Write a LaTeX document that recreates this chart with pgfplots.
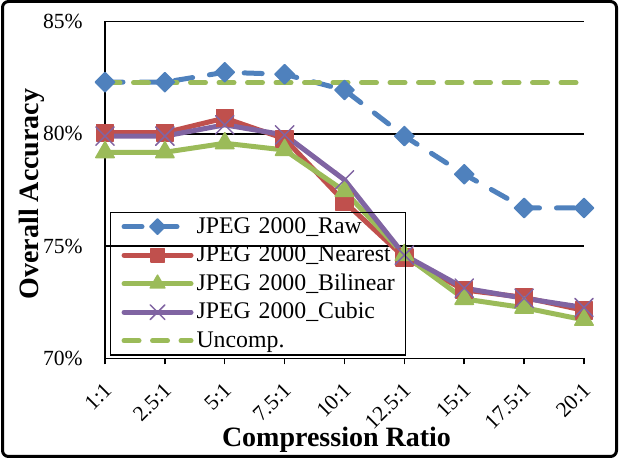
\documentclass[border=0pt]{standalone}
\usepackage{pgfplots}
\pgfplotsset{compat=1.18}
\usepackage{fontspec}
\setmainfont{Liberation Serif}
\definecolor{cblue}{HTML}{4F81BD}
\definecolor{cred}{HTML}{C0504D}
\definecolor{cgreen}{HTML}{9BBB59}
\definecolor{cpurple}{HTML}{8064A2}
\begin{document}
\begin{tikzpicture}
\path[use as bounding box] (0,0) rectangle (309.5pt,229pt);
\begin{axis}[
  at={(52.5pt,49.75pt)}, anchor=south west,
  scale only axis, width=239.5pt, height=168.5pt,
  xmin=0, xmax=8, ymin=70, ymax=85,
  xtick={0,1,2,3,4,5,6,7,8},
  xticklabels={1:1,2.5:1,5:1,7.5:1,10:1,12.5:1,15:1,17.5:1,20:1},
  ytick={70,75,80,85},
  yticklabel={\pgfmathprintnumber{\tick}\%},
  /pgf/number format/assume math mode=true,
  axis x line*=bottom, axis y line*=left,
  axis line style={line width=0.75pt, black},
  ymajorgrids, grid style={black, line width=0.75pt},
  tick align=outside, major tick length=3pt,
  xtick style={black, line width=0.75pt},
  ytick style={draw=none},
  yticklabel style={font=\fontsize{10.8}{12}\selectfont, anchor=east, inner sep=0pt, xshift=-8pt},
  xticklabel style={font=\fontsize{10.8}{12}\selectfont, inner sep=0pt, xshift=1.5pt, yshift=-11pt, rotate=45, anchor=east},
  xlabel={Compression Ratio},
  xlabel style={font=\bfseries\fontsize{14}{16}\selectfont, at={(axis description cs:0.4833,-0.2617)}, anchor=base},
  ylabel={Overall Accuracy},
  ylabel style={font=\bfseries\fontsize{14}{16}\selectfont, at={(axis description cs:-0.1388,0.488)}, anchor=base, rotate=0},
  legend cell align=left,
  legend style={at={(axis description cs:0.0104,0.0083)}, anchor=south west,
    draw=black, line width=0.75pt, fill=none,
    inner xsep=5.4pt, inner ysep=0pt, row sep=0pt, column sep=1.5pt,
    font=\fontsize{11.9}{14}\selectfont,
    nodes={inner sep=0pt, text width=99pt, align=left, text height=10.43pt, text depth=3.82pt}},
  legend image code/.code={
    \draw[#1, line cap=round, mark repeat=2, mark phase=2, every mark/.append style={scale=0.8}]
      plot coordinates {(0pt,0pt) (16.75pt,0pt) (33.5pt,0pt)};
  },
]
\addplot[cblue, line width=2.5pt, dash pattern=on 9pt off 8.5pt, line cap=round, line join=round,
  mark=square*, mark size=3.4pt, mark options={solid, rotate=45, line width=0.75pt}]
  coordinates {(0,82.3) (1,82.3) (2,82.74) (3,82.65) (4,81.95) (5,79.9) (6,78.2) (7,76.7) (8,76.7)};
\addlegendentry{\mbox{JPEG 2000\_Raw}}
\addplot[cred, line width=2.5pt, line cap=round, line join=round,
  mark=square*, mark size=4.2pt, mark options={solid, line width=0.75pt}]
  coordinates {(0,80.05) (1,80.05) (2,80.7) (3,79.78) (4,76.97) (5,74.5) (6,73.05) (7,72.72) (8,72.14)};
\addlegendentry{\mbox{JPEG 2000\_Nearest}}
\addplot[cgreen, line width=2.5pt, line cap=round, line join=round,
  mark=triangle*, mark size=5.3pt, mark options={solid, line width=0.75pt}]
  coordinates {(0,79.18) (1,79.18) (2,79.58) (3,79.28) (4,77.45) (5,74.6) (6,72.65) (7,72.26) (8,71.72)};
\addlegendentry{\mbox{JPEG 2000\_Bilinear}}
\addplot[cpurple, line width=2.5pt, line cap=round, line join=round,
  mark=x, mark size=6.5pt, mark options={solid, line width=0.75pt}]
  coordinates {(0,79.9) (1,79.9) (2,80.4) (3,79.95) (4,77.95) (5,74.6) (6,73.13) (7,72.68) (8,72.27)};
\addlegendentry{\mbox{JPEG 2000\_Cubic}}
\addplot[cgreen, line width=2.5pt, dash pattern=on 7.5pt off 6.75pt, line cap=round, mark=none]
  coordinates {(0,82.28) (1,82.28) (2,82.28) (3,82.28) (4,82.28) (5,82.28) (6,82.28) (7,82.28) (8,82.28)};
\addlegendentry{Uncomp.}
\end{axis}
\draw[line width=1.5pt, rounded corners=3pt] (1.25pt,0.75pt) rectangle (308.25pt,228.25pt);
\end{tikzpicture}
\end{document}
